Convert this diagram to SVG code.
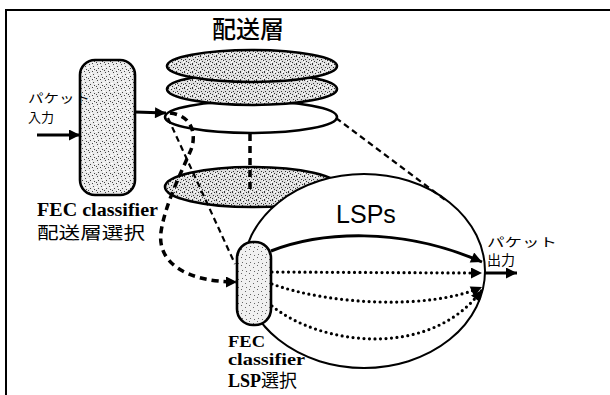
<svg xmlns="http://www.w3.org/2000/svg" width="610" height="395" viewBox="0 0 610 395">
<style>
.frame{stroke:#000;stroke-width:2;fill:none}
.ell{stroke:#000;stroke-width:2.6}
.box{stroke:#000;stroke-width:2.6}
.big{fill:#fff;stroke:#000;stroke-width:2}
.arrow{stroke:#000;stroke-width:3;fill:none}
.thickdash{stroke:#000;stroke-width:3.5;fill:none;stroke-dasharray:7 5}
.thindash{stroke:#000;stroke-width:2.2;fill:none;stroke-dasharray:6 4}
.dot{stroke:#000;stroke-width:3.2;fill:none;stroke-dasharray:0 5.5;stroke-linecap:round}
.serif{font-family:"Liberation Serif","Times New Roman",serif;font-weight:bold;fill:#000}
.jp{font-family:"Noto Sans CJK JP","Noto Sans",sans-serif;fill:#000}
.sans{font-family:"Liberation Sans",Arial,sans-serif;fill:#000}
</style>
<defs>
<pattern id="stipDark" width="8" height="8" patternUnits="userSpaceOnUse">
<rect width="8" height="8" fill="#dedede"/>
<path d="M0 0h1v1h-1zM3 1h1v1h-1zM6 0h1v1h-1zM1 3h1v1h-1zM5 3h1v1h-1zM2 5h1v1h-1zM7 4h1v1h-1zM4 6h1v1h-1zM0 7h1v1h-1z" fill="#333"/>
<path d="M2 0h1v1h-1zM5 1h1v1h-1zM0 5h1v1h-1zM6 4h1v1h-1zM3 7h1v1h-1zM7 6h1v1h-1z" fill="#fff"/>
</pattern>
<pattern id="stipMid" width="8" height="8" patternUnits="userSpaceOnUse">
<rect width="8" height="8" fill="#ebebeb"/>
<path d="M1 0h1v1h-1zM5 2h1v1h-1zM2 4h1v1h-1zM6 5h1v1h-1zM0 6h1v1h-1zM4 7h1v1h-1z" fill="#444"/>
<path d="M3 1h1v1h-1zM0 3h1v1h-1zM5 6h1v1h-1zM7 3h1v1h-1z" fill="#fff"/>
</pattern>
<pattern id="stipLight" width="8" height="8" patternUnits="userSpaceOnUse">
<rect width="8" height="8" fill="#f0f0f0"/>
<path d="M1 1h1v1h-1zM5 3h1v1h-1zM2 6h1v1h-1zM6 7h1v1h-1z" fill="#666"/>
</pattern>
<marker id="ah" viewBox="0 0 10 10" refX="10" refY="5" markerWidth="14" markerHeight="11" markerUnits="userSpaceOnUse" orient="auto">
<path d="M0,0 L10,5 L0,10 z" fill="#000"/>
</marker>
</defs>

<g id="frame">
<path class="frame" d="M6,395 L6,10 L610,10"/>
</g>

<g id="title-layers">
<text class="jp" x="248" y="38" font-size="24" text-anchor="middle" font-weight="500">配送層</text>
</g>

<g id="layer3"><ellipse class="ell" cx="251" cy="117" rx="86" ry="16" fill="#fff"/></g>
<g id="layer2"><ellipse class="ell" cx="252" cy="89" rx="85" ry="16" fill="url(#stipDark)"/></g>
<g id="layer1"><ellipse class="ell" cx="252" cy="66" rx="85" ry="16" fill="url(#stipDark)"/></g>
<g id="layer4"><ellipse class="ell" cx="252" cy="187" rx="87" ry="20" fill="url(#stipDark)"/></g>

<g id="lsp-region">
<ellipse class="big" cx="364" cy="271" rx="121" ry="97"/>
<text class="sans" x="366" y="223" font-size="25" text-anchor="middle">LSPs</text>
</g>

<g id="connectors">
<path class="arrow" d="M37,135 L80,135" marker-end="url(#ah)"/>
<path class="arrow" d="M135,112 L166,113" marker-end="url(#ah)"/>
<path class="thindash" d="M336,118 L448,202"/>
<path class="thickdash" d="M250,134 L250,190"/>
<path class="thindash" d="M168,118 L235,264"/>
<path class="thickdash" d="M170,113 C196,116 196,140 190,152 C180,175 165,205 161,232 C157,262 185,282 237,282" marker-end="url(#ah)"/>
<path class="arrow" d="M271,251 C320,232 400,226 482,262" marker-end="url(#ah)"/>
<path class="dot" d="M272,272 L470,273"/>
<path d="M470,273 L482,273" stroke="none" fill="none" marker-end="url(#ah)"/>
<path class="dot" d="M272,284 C330,305 430,310 482,287" marker-end="url(#ah)"/>
<path class="dot" d="M272,306 C320,345 430,360 482,290" marker-end="url(#ah)"/>
<path class="arrow" d="M485,273 L517,273" marker-end="url(#ah)"/>
</g>

<g id="classifier1">
<rect class="box" x="80" y="60" width="55" height="135" rx="15" fill="url(#stipMid)"/>
<text class="serif" x="37" y="216" font-size="18" textLength="121" lengthAdjust="spacingAndGlyphs">FEC classifier</text>
<text class="jp" x="37" y="239" font-size="17" textLength="108" lengthAdjust="spacingAndGlyphs">配送層選択</text>
</g>

<g id="classifier2">
<rect class="box" x="237" y="242" width="34" height="83" rx="16" fill="url(#stipLight)"/>
<text class="serif" x="228" y="347" font-size="17" textLength="37" lengthAdjust="spacingAndGlyphs">FEC</text>
<text class="serif" x="228" y="365" font-size="17" textLength="77" lengthAdjust="spacingAndGlyphs">classifier</text>
<text class="serif" x="228" y="387" font-size="18"><tspan>LSP</tspan><tspan class="jp" font-weight="normal" font-size="18">選択</tspan></text>
</g>

<g id="input-label">
<text class="jp" x="28" y="103" font-size="12" textLength="62" lengthAdjust="spacingAndGlyphs">パケット</text>
<text class="jp" x="28" y="122" font-size="13">入力</text>
</g>

<g id="output-label">
<text class="jp" x="487" y="247" font-size="12" textLength="70" lengthAdjust="spacingAndGlyphs">パケット</text>
<text class="jp" x="487" y="265" font-size="14">出力</text>
</g>
</svg>
